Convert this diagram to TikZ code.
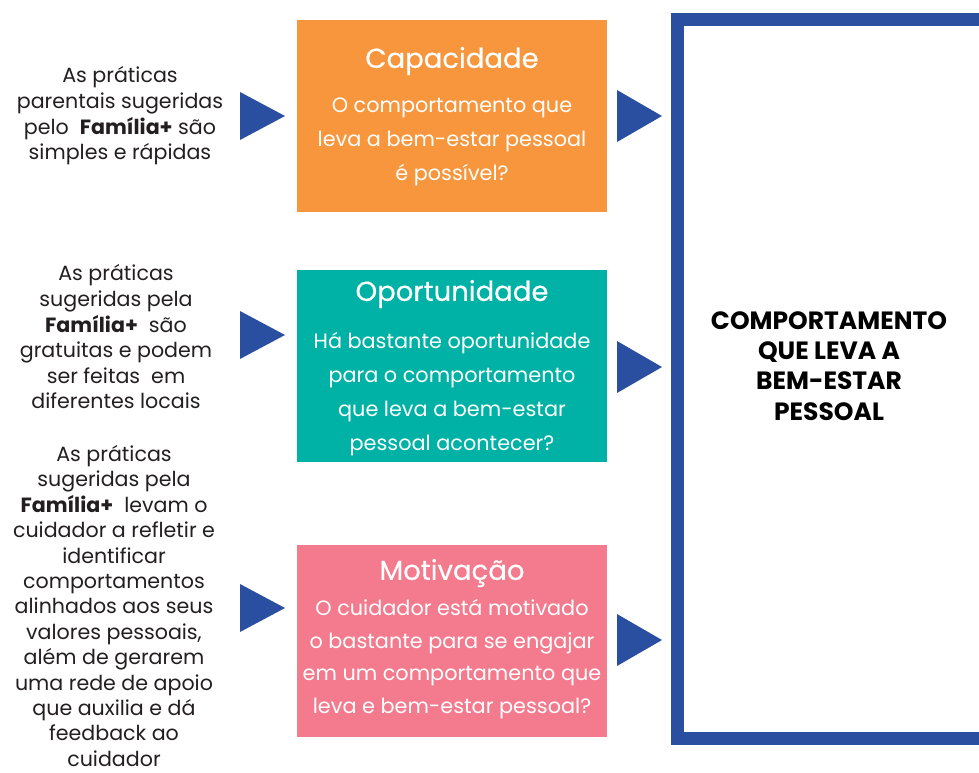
\documentclass[tikz,border=0pt]{standalone}
\usepackage{fontspec}
\setmainfont{Poppins}
\newfontfamily\popmed{Poppins}[FakeBold=0.4]
\usetikzlibrary{positioning}
\definecolor{capOrange}{HTML}{F7963D}
\definecolor{opTeal}{HTML}{00B2A5}
\definecolor{motPink}{HTML}{F37B8D}
\definecolor{comBlue}{HTML}{2B4FA0}
\definecolor{txtGray}{HTML}{231F20}
\begin{document}
\begin{tikzpicture}[x=1pt,y=-1pt,
  box/.style={minimum width=310pt, minimum height=192pt, inner sep=0pt, anchor=north west},
  boxtitle/.style={text=white, font=\popmed\fontsize{27.5}{30}\selectfont},
  boxbody/.style={text=white, align=center, font=\fontsize{20.8}{34}\selectfont},
  lefttxt/.style={text=txtGray, align=center, inner sep=0pt, font=\fontsize{20.6}{25.6}\selectfont},
  tri/.style={fill=comBlue}]
\useasboundingbox (0,0) rectangle (979,772);

% Big frame on the right
\draw[comBlue, line width=13pt] (1000,19.5) -- (677.5,19.5) -- (677.5,738) -- (1000,738);
\node[text=black, align=center, font=\fontsize{25}{30.3}\selectfont\bfseries] (com) at (829,366)
  {COMPORTAMENTO\\QUE LEVA A\\BEM-ESTAR\\PESSOAL};

% Coloured boxes
\node[box, fill=capOrange] (cap) at (297,20) {};
\node[box, fill=opTeal] (opo) at (297,270) {};
\node[box, fill=motPink] (mot) at (297,545) {};

\node[boxtitle] (capT) at (452,61) {Capacidade};
\node[boxbody] (capB) at (452,142) {O comportamento que\\leva a bem-estar pessoal\\é possível?};
\node[boxtitle] (opoT) at (452,294) {Oportunidade};
\node[boxbody] (opoB) at (452,394) {Há bastante oportunidade\\para o comportamento\\que leva a bem-estar\\pessoal acontecer?};
\node[boxtitle] (motT) at (452,573) {Motivação};
\node[boxbody, font=\fontsize{20.8}{32.5}\selectfont] (motB) at (452,659) {O cuidador está motivado\\o bastante para se engajar\\em um comportamento que\\leva e bem-estar pessoal?};

% Texts on the left
\node[lefttxt] (t1) at (120,116) {As práticas\\parentais sugeridas\\pelo~~\textbf{Família+} são\\simples e rápidas};
\node[lefttxt] (t2) at (116,337) {As práticas\\sugeridas pela\\\textbf{Família+}~~são\\gratuitas e podem\\ser feitas~~em\\diferentes locais};
\node[lefttxt, font=\fontsize{20.6}{25.4}\selectfont] (t3) at (114,606) {As práticas\\sugeridas pela\\\textbf{Família+}~~levam o\\cuidador a refletir e\\identificar\\comportamentos\\alinhados aos seus\\valores pessoais,\\além de gerarem\\uma rede de apoio\\que auxilia e dá\\feedback ao\\cuidador};

% Triangles
\foreach \y in {116,335,608} {
  \fill[tri] (240,\y-24) -- (285,\y) -- (240,\y+24) -- cycle;
}
\foreach \y in {116,367,640} {
  \fill[tri] (617,\y-26) -- (662,\y) -- (617,\y+26) -- cycle;
}
\end{tikzpicture}
\end{document}
